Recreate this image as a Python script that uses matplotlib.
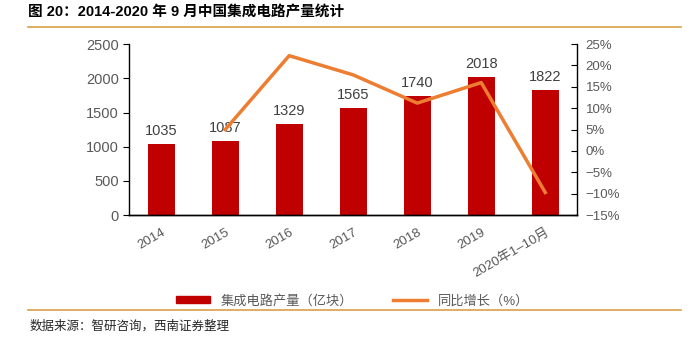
import matplotlib
matplotlib.use("Agg")
import matplotlib.pyplot as plt
from matplotlib.lines import Line2D
from matplotlib.patches import Patch

plt.rcParams['font.family'] = ['Liberation Sans', 'Noto Sans CJK SC', 'DejaVu Sans']
plt.rcParams['axes.unicode_minus'] = True

# ---data---
years = ['2014', '2015', '2016', '2017', '2018', '2019', '2020年1–10月']
output = [1035, 1087, 1329, 1565, 1740, 2018, 1822]
growth = [None, 5.0, 22.3, 17.8, 11.2, 16.0, -9.7]
right_ticks = [-15, -10, -5, 0, 5, 10, 15, 20, 25]

bar_color = '#C00000'
line_color = '#ED7D31'
text_gray = '#595959'

fig = plt.figure(figsize=(6.98, 3.42), dpi=100)
ax = fig.add_axes([0.185, 0.371, 0.642, 0.5])

x = list(range(len(years)))
ax.bar(x, output, width=0.42, color=bar_color, zorder=2)
for xi, v in zip(x, output):
    ax.text(xi, v + 90, str(v), ha='center', va='bottom', fontsize=10.5, color='#404040', zorder=4)

ax.set_xlim(-0.5, 6.5)
ax.set_ylim(0, 2500)
ax.set_yticks([0, 500, 1000, 1500, 2000, 2500])
ax.set_xticks(x)
ax.set_xticklabels(years, rotation=30, ha='right', rotation_mode='anchor', fontsize=9.5, color=text_gray)
ax.tick_params(axis='y', labelsize=10.5, labelcolor=text_gray, length=4, direction='out')
ax.tick_params(axis='x', length=0, pad=8)
ax.spines['top'].set_visible(False)
ax.spines['right'].set_visible(False)

ax2 = ax.twinx()
gx = [xi for xi, g in zip(x, growth) if g is not None]
gy = [g for g in growth if g is not None]
ax2.plot(gx, gy, color=line_color, linewidth=2.5, zorder=3)
ax2.set_ylim(-15, 25)
ax2.set_yticks(right_ticks)
ax2.set_yticklabels([f'{t}%'.replace('-', '−') for t in right_ticks])
ax2.tick_params(axis='y', labelsize=9.5, labelcolor=text_gray, length=4, direction='in', pad=6)
ax2.spines['top'].set_visible(False)
ax2.spines['left'].set_visible(False)
for a in (ax, ax2):
    for s in a.spines.values():
        s.set_color('black')
        s.set_linewidth(1)

# legend
handles = [Patch(color=bar_color), Line2D([0], [0], color=line_color, linewidth=2.5)]
labels = ['集成电路产量（亿块）', '同比增长（%）']
fig.legend(handles, labels, loc='center', bbox_to_anchor=(0.505, 0.12), ncol=2, frameon=False,
           fontsize=9.5, labelcolor=text_gray, handlelength=2.6, handleheight=0.5, columnspacing=3)

# title and footer
fig.text(0.04, 0.965, '图 20：2014-2020 年 9 月中国集成电路产量统计', fontsize=10.5,
         fontweight='bold', ha='left', va='center', color='black')
fig.add_artist(Line2D([0.04, 0.975], [0.921, 0.921], color='#D9A04A', linewidth=1.2))
fig.add_artist(Line2D([0.04, 0.975], [0.094, 0.094], color='#D9A04A', linewidth=1.2))
fig.text(0.042, 0.045, '数据来源：智研咨询，西南证券整理', fontsize=9, style='italic',
         ha='left', va='center', color='#262626')

fig.savefig('out.png', dpi=100)
